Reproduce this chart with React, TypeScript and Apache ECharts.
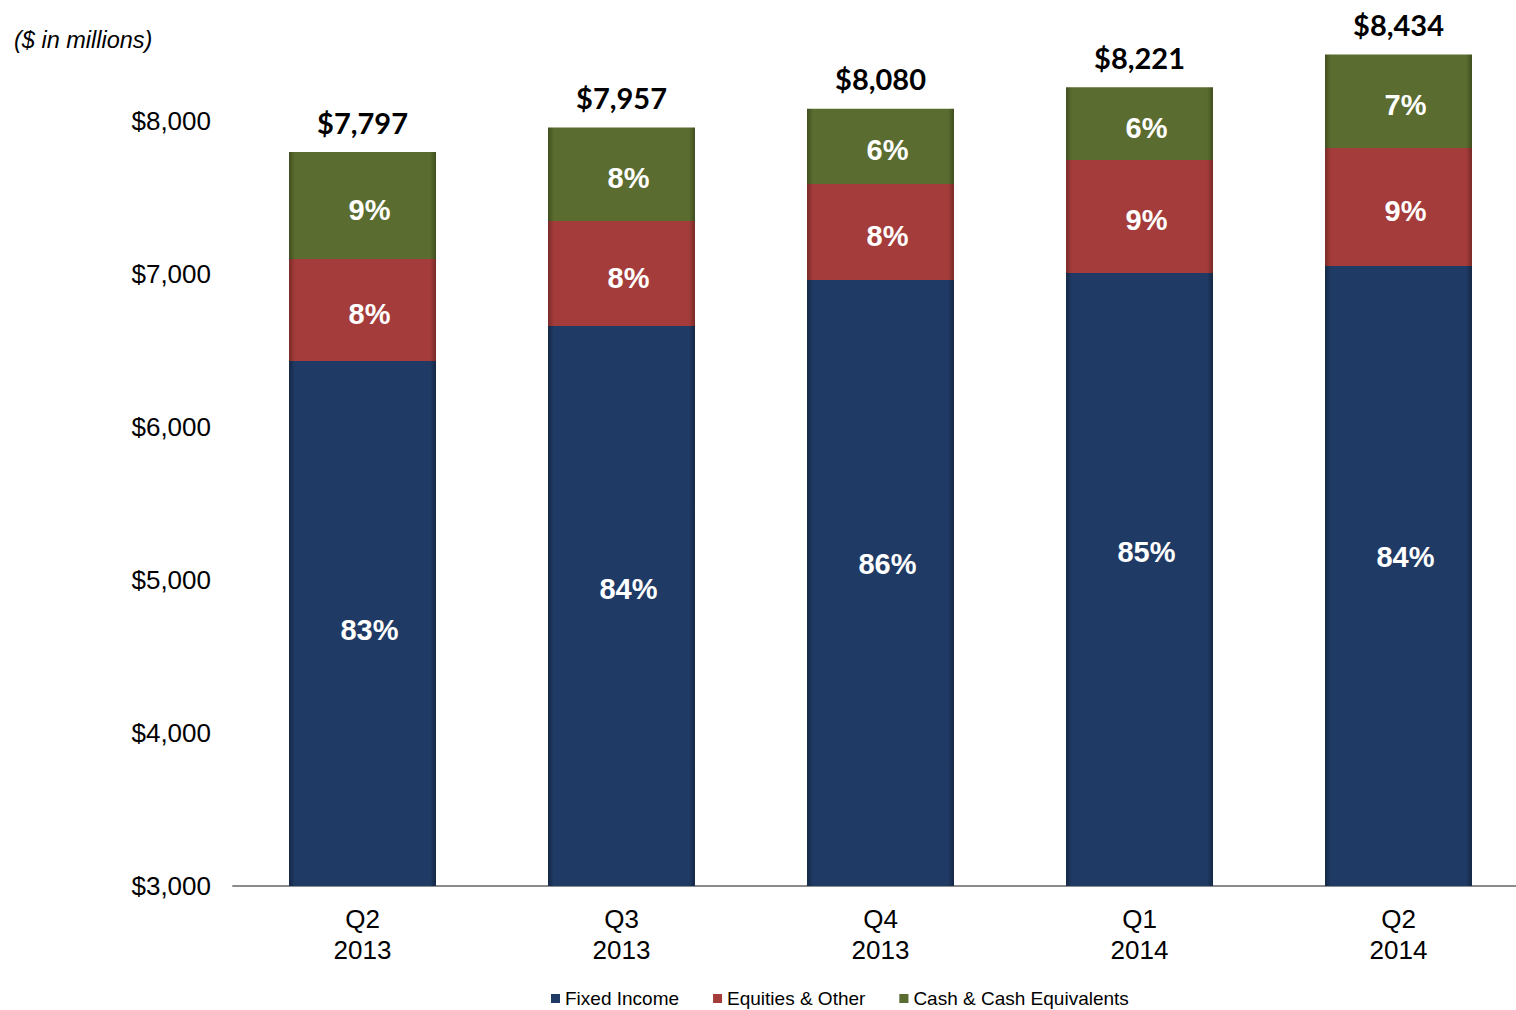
import React, { useEffect, useRef } from "react";
import * as echarts from "echarts";

const categories = ["Q2\n2013", "Q3\n2013", "Q4\n2013", "Q1\n2014", "Q2\n2014"];
const fixedIncome = [6431, 6660, 6961, 7007, 7052];
const equities = [667, 686, 627, 738, 772];
const cash = [699, 611, 492, 476, 610];
const totals = [7797, 7957, 8080, 8221, 8434];
const fixedPct = ["83%", "84%", "86%", "85%", "84%"];
const equitiesPct = ["8%", "8%", "8%", "9%", "9%"];
const cashPct = ["9%", "8%", "6%", "6%", "7%"];
const totalLabels = ["$7,797", "$7,957", "$8,080", "$8,221", "$8,434"];

function bevel(base: string, edge: string) {
  return new echarts.graphic.LinearGradient(0, 0, 1, 0, [
    { offset: 0, color: edge },
    { offset: 0.04, color: base },
    { offset: 0.96, color: base },
    { offset: 1, color: edge },
  ]);
}

export default function App() {
  const ref = useRef<HTMLDivElement>(null);
  useEffect(() => {
    const chart = echarts.init(ref.current!, null, { renderer: "svg" });
    // vertical nudges of the percentage labels (style only)
    const fixedShift = [6, -17, -19, -27, -19];
    const pctLabel = (arr: string[]) => ({
      show: true,
      position: "inside" as const,
      offset: [7, 4],
      formatter: (p: any) => arr[p.dataIndex],
      color: "#ffffff",
      fontFamily: "Liberation Sans, Arial, sans-serif",
      fontWeight: "bold" as const,
      fontSize: 29,
    });
    chart.setOption({
      animation: false,
      backgroundColor: "#ffffff",
      grid: { left: 233, top: 44.5, width: 1295, height: 841.5, containLabel: false },
      graphic: [
        {
          type: "text",
          left: 14,
          top: 28,
          style: {
            text: "($ in millions)",
            font: "italic 23.5px 'Liberation Sans', Arial, sans-serif",
            fill: "#000",
          },
        },
      ],
      legend: {
        top: 984,
        left: 546,
        padding: 5,
        itemWidth: 9,
        itemHeight: 9,
        itemGap: 34,
        icon: "rect",
        textStyle: { fontSize: 19, color: "#000", fontFamily: "Liberation Sans, Arial, sans-serif", padding: [0, 0, 0, 0] },
        data: ["Fixed Income", "Equities & Other", "Cash & Cash Equivalents"],
      },
      xAxis: {
        type: "category",
        data: categories,
        axisLine: { show: true, lineStyle: { color: "#8c8c8c", width: 2 } },
        axisTick: { show: false },
        axisLabel: {
          fontSize: 26,
          lineHeight: 31,
          color: "#000",
          margin: 17,
          fontFamily: "Liberation Sans, Arial, sans-serif",
        },
      },
      yAxis: {
        type: "value",
        min: 3000,
        max: 8500,
        interval: 1000,
        splitLine: { show: false },
        axisLine: { show: false },
        axisTick: { show: false },
        axisLabel: {
          fontSize: 26,
          color: "#000",
          margin: 22,
          fontFamily: "Liberation Sans, Arial, sans-serif",
          formatter: (v: number) =>
            v % 1000 === 0 ? "$" + v.toLocaleString("en-US") : "",
        },
      },
      series: [
        {
          name: "Fixed Income",
          type: "bar",
          stack: "total",
          barWidth: 147,
          data: fixedIncome.map((v, i) => ({
            value: v,
            label: { offset: [7, fixedShift[i]] },
          })),
          itemStyle: { color: bevel("#1f3a64", "#152846") },
          label: pctLabel(fixedPct),
        },
        {
          name: "Equities & Other",
          type: "bar",
          stack: "total",
          barWidth: 147,
          data: equities,
          itemStyle: { color: bevel("#a33c3a", "#7a2a28") },
          label: pctLabel(equitiesPct),
        },
        {
          name: "Cash & Cash Equivalents",
          type: "bar",
          stack: "total",
          barWidth: 147,
          data: cash,
          itemStyle: { color: bevel("#5a6c2f", "#414f20") },
          label: pctLabel(cashPct),
        },
        {
          name: "Total",
          type: "line",
          data: totals,
          symbol: "circle",
          symbolSize: 1,
          showSymbol: true,
          itemStyle: { color: "rgba(0,0,0,0)" },
          lineStyle: { width: 0, color: "rgba(0,0,0,0)" },
          silent: true,
          label: {
            show: true,
            position: "top",
            distance: 15,
            formatter: (p: any) => totalLabels[p.dataIndex],
            color: "#000",
            fontFamily: "Lato, 'Open Sans', sans-serif",
            fontWeight: "bold",
            fontSize: 29,
          },
        },
      ],
      color: ["#1f3a64", "#a33c3a", "#5a6c2f"],
    });
    return () => chart.dispose();
  }, []);
  return (
    <div
      style={{
        position: "fixed",
        left: 0,
        top: 0,
        width: 1516,
        height: 1010,
        overflow: "hidden",
        background: "#fff",
      }}
    >
      <div ref={ref} style={{ width: 1540, height: 1010 }} />
    </div>
  );
}
